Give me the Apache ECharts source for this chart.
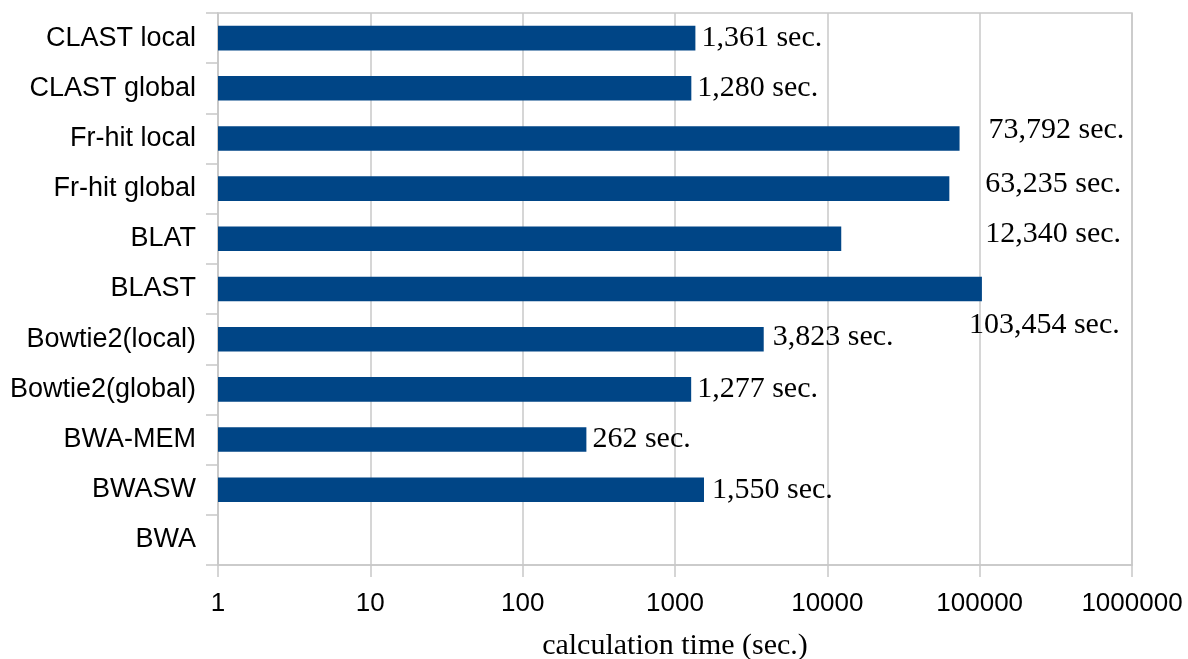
<!DOCTYPE html>
<html>
<head>
<meta charset="utf-8">
<script src="https://cdn.jsdelivr.net/npm/echarts@6/dist/echarts.min.js"></script>
<style>
html,body{margin:0;padding:0;background:#fff;}
#chart{width:1188px;height:659px;}
</style>
</head>
<body>
<div id="chart"></div>
<script>
// Data (top to bottom as shown)
const categories = ['CLAST local','CLAST global','Fr-hit local','Fr-hit global','BLAT','BLAST','Bowtie2(local)','Bowtie2(global)','BWA-MEM','BWASW','BWA'];
const seconds = [1361, 1280, 73792, 63235, 12340, 103454, 3823, 1277, 262, 1550, null];
const tickLabels = ['1','10','100','1000','10000','100000','1000000'];
const axisTitle = 'calculation time (sec.)';

// label placement tweaks (manually moved labels in the original)
const labelShift = {
  'Fr-hit local': [23, -8],
  'Fr-hit global': [30, -5],
  'BLAT': [138, -5],
  'BLAST': [-19, 36],
  'Bowtie2(local)': [3, -2],
  'BWASW': [2, 0]
};

const gridColor = '#c8c8c8';
const chart = echarts.init(document.getElementById('chart'));
const barData = seconds.map((v, i) => {
  const item = { value: v };
  const s = labelShift[categories[i]];
  if (s) item.label = { offset: s };
  return item;
});

chart.setOption({
  animation: false,
  backgroundColor: '#ffffff',
  grid: { left: 218, right: 56, top: 13, bottom: 94, outerBoundsMode: 'none', containLabel: false, show: true, borderColor: gridColor, borderWidth: 1.5, backgroundColor: 'transparent' },
  xAxis: {
    type: 'log', logBase: 10, min: 1, max: 1000000,
    name: axisTitle, nameLocation: 'middle', nameGap: 66,
    nameTextStyle: { fontFamily: 'Liberation Serif', fontSize: 30, color: '#000' },
    axisLine: { show: true, lineStyle: { color: gridColor, width: 1.5 } },
    axisTick: { show: true, length: 12, lineStyle: { color: gridColor, width: 1.5 } },
    splitLine: { show: true, lineStyle: { color: gridColor, width: 1.5 } },
    minorTick: { show: false },
    axisLabel: {
      margin: 26, fontFamily: 'Liberation Sans', fontSize: 26, color: '#000',
      formatter: v => tickLabels[Math.round(Math.log10(v))] ?? ''
    }
  },
  yAxis: {
    type: 'category', data: categories, inverse: true,
    axisLine: { show: true, lineStyle: { color: gridColor, width: 1.5 } },
    axisTick: { show: true, length: 12, alignWithLabel: false, lineStyle: { color: gridColor, width: 1.5 } },
    splitLine: { show: false },
    axisLabel: { margin: 22, fontFamily: 'Liberation Sans', fontSize: 27, color: '#000', padding: [3, 0, 0, 0] }
  },
  series: [{
    type: 'bar',
    data: barData,
    barWidth: '49%',
    itemStyle: { color: '#004586' },
    label: {
      show: true, position: 'right', distance: 6,
      fontFamily: 'Liberation Serif', fontSize: 30, color: '#000',
      formatter: p => p.value == null ? '' : Number(p.value).toLocaleString('en-US') + ' sec.'
    }
  }]
});
</script>
</body>
</html>
